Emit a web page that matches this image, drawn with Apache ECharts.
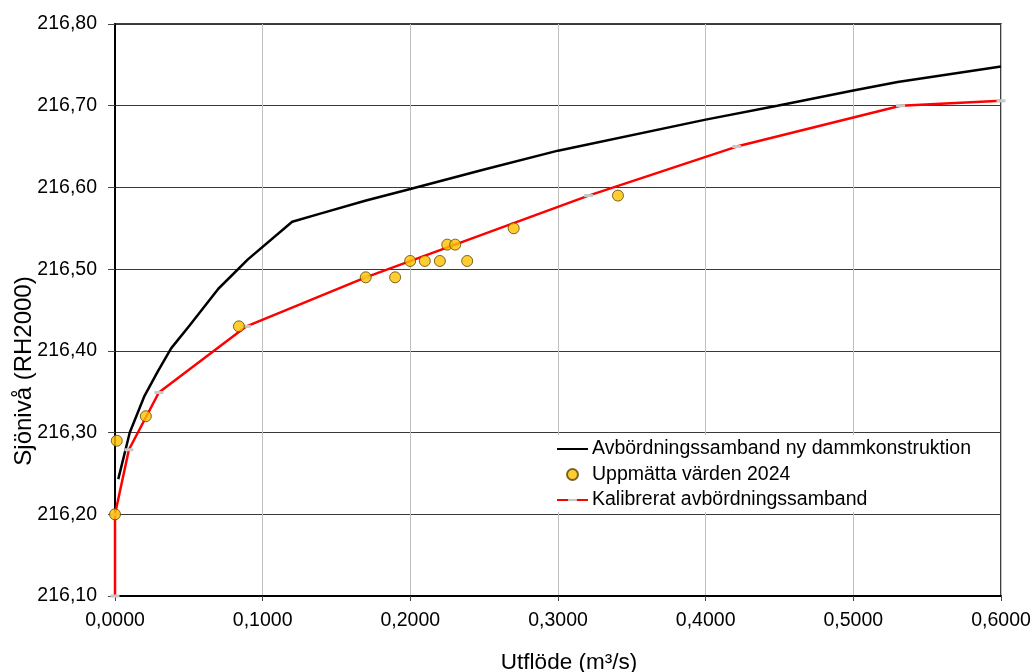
<!DOCTYPE html>
<html>
<head>
<meta charset="utf-8">
<script src="https://cdn.jsdelivr.net/npm/echarts@6/dist/echarts.min.js"></script>
<style>
  html, body { margin: 0; padding: 0; background: #fff; }
  #chart { width: 1034px; height: 672px; }
</style>
</head>
<body>
<div id="chart"></div>
<script>
// Discharge curve for the new dam structure (flow m3/s, lake level RH2000)
const designQ = [0.0022, 0.0100, 0.0200, 0.0290, 0.0380, 0.0505, 0.0700, 0.0900, 0.1200, 0.1390, 0.1700, 0.2000, 0.2500, 0.3000, 0.4000, 0.4485, 0.5000, 0.5300, 0.6000];
const designH = [216.243, 216.300, 216.345, 216.375, 216.403, 216.431, 216.476, 216.512, 216.558, 216.568, 216.584, 216.598, 216.622, 216.645, 216.683, 216.700, 216.7185, 216.729, 216.748];

// Measured values 2024
const measQ = [0.0000, 0.0012, 0.0209, 0.0839, 0.1698, 0.1897, 0.1999, 0.2098, 0.2200, 0.2250, 0.2304, 0.2385, 0.2700, 0.3406];
const measH = [216.20, 216.29, 216.32, 216.43, 216.49, 216.49, 216.51, 216.51, 216.51, 216.53, 216.53, 216.51, 216.55, 216.59];

// Calibrated discharge curve
const calQ = [0.0000, 0.0000, 0.0094, 0.0297, 0.0890, 0.1698, 0.3207, 0.4210, 0.5320, 0.6000];
const calH = [216.10, 216.20, 216.279, 216.349, 216.430, 216.490, 216.590, 216.650, 216.700, 216.706];

// Tick labels
const xTickLabels = ['0,0000', '0,1000', '0,2000', '0,3000', '0,4000', '0,5000', '0,6000'];
const yTickLabels = ['216,10', '216,20', '216,30', '216,40', '216,50', '216,60', '216,70', '216,80'];

const seriesNames = ['Avbördningssamband ny dammkonstruktion', 'Uppmätta värden 2024', 'Kalibrerat avbördningssamband'];

const zip = (a, b) => a.map((v, i) => [v, b[i]]);
const FONT = 'Liberation Sans, Arial, sans-serif';

// Grey dash marker on the calibrated curve; the empty moves give the symbol
// a taller box so the dash stays thin when scaled to a square legend icon.
const DASH = 'path://M0,0 M0,4.5 L9,4.5 L9,7.5 L0,7.5 Z M9,12';

const chart = echarts.init(document.getElementById('chart'), null, { renderer: 'canvas' });
chart.setOption({
  animation: false,
  backgroundColor: '#fff',
  grid: {
    left: 115, right: 33, top: 24, bottom: 76,
    containLabel: false,
    outerBoundsMode: 'none',
    show: true,
    borderColor: '#000',
    borderWidth: 1.5
  },
  legend: {
    orient: 'vertical',
    left: 546,
    top: 435,
    padding: [4, 12, 2, 10],
    itemGap: 5.5,
    itemWidth: 31,
    itemHeight: 11,
    backgroundColor: '#fff',
    textStyle: { fontFamily: FONT, fontSize: 19.5, color: '#000', padding: [0, 0, 0, -1] },
    data: [
      { name: seriesNames[0], itemStyle: { opacity: 0 } },
      { name: seriesNames[1] },
      { name: seriesNames[2] }
    ]
  },
  xAxis: {
    type: 'value',
    min: 0, max: 0.6, interval: 0.1,
    name: 'Utflöde (m³/s)',
    nameLocation: 'middle',
    nameGap: 55,
    nameMoveOverlap: false,
    nameTextStyle: { fontFamily: FONT, fontSize: 22.5, color: '#000', padding: [0, 0, 0, 22] },
    axisLine: { show: true, onZero: false, lineStyle: { color: '#000', width: 2 } },
    axisTick: { show: true, length: 5, lineStyle: { color: '#444', width: 1 } },
    axisLabel: {
      fontFamily: FONT, fontSize: 19.5, color: '#000', margin: 15,
      formatter: (v, i) => xTickLabels[i]
    },
    splitLine: { show: true, lineStyle: { color: '#c0c0c0', width: 1 } }
  },
  yAxis: {
    type: 'value',
    min: 216.1, max: 216.8, interval: 0.1,
    name: 'Sjönivå (RH2000)',
    nameLocation: 'middle',
    nameGap: 79,
    nameMoveOverlap: false,
    nameRotate: 90,
    nameTextStyle: { fontFamily: FONT, fontSize: 24, color: '#000', padding: [0, 122, 0, 0] },
    axisLine: { show: true, onZero: false, lineStyle: { color: '#000', width: 2 } },
    axisTick: { show: true, length: 7, lineStyle: { color: '#444', width: 1 } },
    axisLabel: {
      fontFamily: FONT, fontSize: 19.5, color: '#000', margin: 18,
      formatter: (v, i) => yTickLabels[i]
    },
    splitLine: { show: true, lineStyle: { color: '#3a3a3a', width: 1 } }
  },
  series: [
    {
      name: seriesNames[0],
      type: 'line',
      data: zip(designQ, designH),
      showSymbol: false,
      symbol: 'none',
      lineStyle: { color: '#000', width: 2.5 },
      itemStyle: { color: '#000' },
      z: 3
    },
    {
      name: seriesNames[2],
      type: 'line',
      data: zip(calQ, calH),
      symbol: DASH,
      symbolSize: [9, 12],
      showAllSymbol: true,
      lineStyle: { color: '#ff0000', width: 2.5 },
      itemStyle: { color: '#c8c8c8', borderWidth: 0 },
      z: 3
    },
    {
      name: seriesNames[1],
      type: 'scatter',
      data: zip(measQ, measH),
      symbol: 'circle',
      symbolSize: 11,
      itemStyle: { color: '#ffc000', borderColor: '#5a4500', borderWidth: 1 },
      z: 5
    }
  ]
});
</script>
</body>
</html>
